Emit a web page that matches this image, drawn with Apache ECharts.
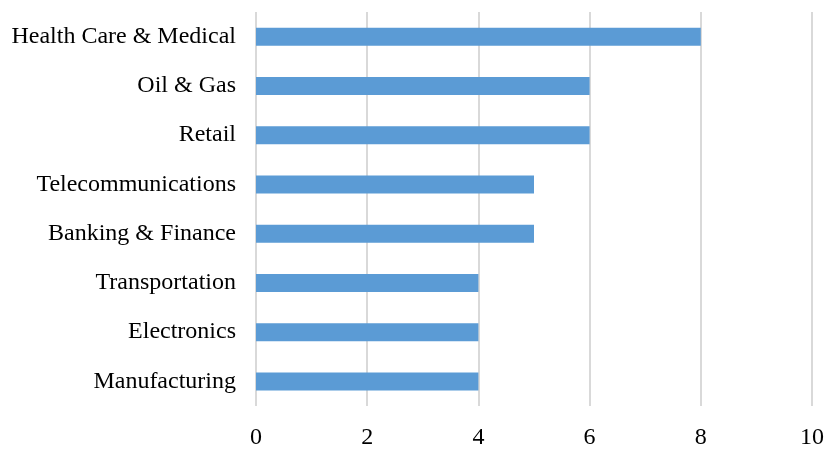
<!DOCTYPE html>
<html>
<head>
<meta charset="utf-8">
<script src="https://cdn.jsdelivr.net/npm/echarts@6/dist/echarts.min.js"></script>
<style>
  html, body { margin: 0; padding: 0; background: #ffffff; }
  #chart { width: 827px; height: 450px; }
</style>
</head>
<body>
<div id="chart"></div>
<script>
const categories = [
  "Health Care & Medical",
  "Oil & Gas",
  "Retail",
  "Telecommunications",
  "Banking & Finance",
  "Transportation",
  "Electronics",
  "Manufacturing"
];
const values = [8, 6, 6, 5, 5, 4, 4, 4];
const xTicks = [0, 2, 4, 6, 8, 10];

const chart = echarts.init(document.getElementById('chart'), null, { renderer: 'canvas' });
const font = '"Liberation Serif", "Times New Roman", serif';
chart.setOption({
  animation: false,
  backgroundColor: '#ffffff',
  grid: { left: 256, right: 15, top: 12, bottom: 38, containLabel: false },
  xAxis: {
    type: 'value',
    min: xTicks[0],
    max: xTicks[xTicks.length - 1],
    interval: xTicks[1] - xTicks[0],
    axisLine: { show: false },
    axisTick: { show: false },
    splitLine: { show: true, lineStyle: { color: '#d9d9d9', width: 2 } },
    axisLabel: { color: '#000000', fontFamily: font, fontSize: 24, margin: 20 }
  },
  yAxis: {
    type: 'category',
    data: categories,
    inverse: true,
    axisLine: { show: false },
    axisTick: { show: false },
    splitLine: { show: false },
    axisLabel: { color: '#000000', fontFamily: font, fontSize: 24, margin: 20 }
  },
  series: [{
    type: 'bar',
    data: values,
    barWidth: 18,
    itemStyle: { color: '#5b9bd5' }
  }]
});
</script>
</body>
</html>
